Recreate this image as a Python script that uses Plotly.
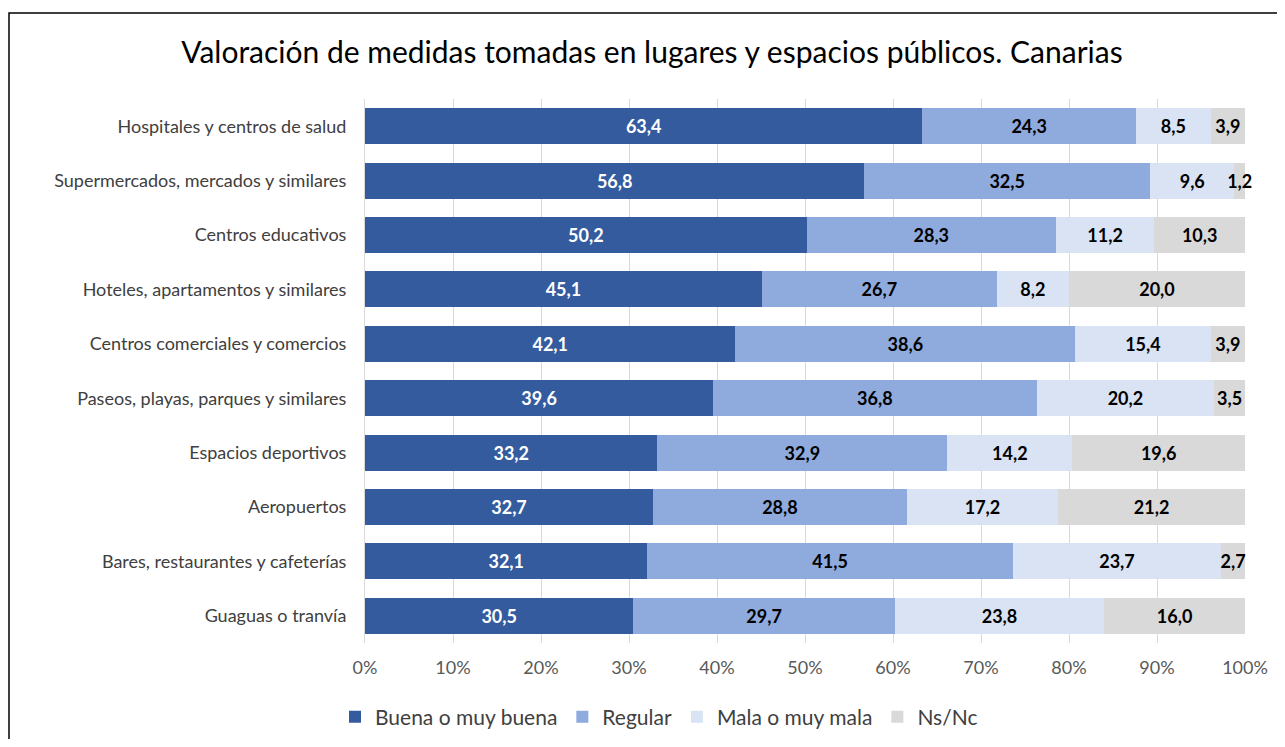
import plotly.graph_objects as go

# categories (top to bottom as in the chart)
categorias = [
    "Hospitales y centros de salud",
    "Supermercados, mercados y similares",
    "Centros educativos",
    "Hoteles, apartamentos y similares",
    "Centros comerciales y comercios",
    "Paseos, playas, parques y similares",
    "Espacios deportivos",
    "Aeropuertos",
    "Bares, restaurantes y cafeterías",
    "Guaguas o tranvía",
]

buena = [63.4, 56.8, 50.2, 45.1, 42.1, 39.6, 33.2, 32.7, 32.1, 30.5]
regular = [24.3, 32.5, 28.3, 26.7, 38.6, 36.8, 32.9, 28.8, 41.5, 29.7]
mala = [8.5, 9.6, 11.2, 8.2, 15.4, 20.2, 14.2, 17.2, 23.7, 23.8]
nsnc = [3.9, 1.2, 10.3, 20.0, 3.9, 3.5, 19.6, 21.2, 2.7, 16.0]

tick_vals = [0, 10, 20, 30, 40, 50, 60, 70, 80, 90, 100]
tick_text = [f"{v}%" for v in tick_vals]

series = [
    ("Buena o muy buena", buena, "#335B9E", "white"),
    ("Regular", regular, "#8FAADC", "black"),
    ("Mala o muy mala", mala, "#DAE3F3", "black"),
    ("Ns/Nc", nsnc, "#D9D9D9", "black"),
]

FONT = "Lato"
# page is drawn with an 8px body margin, so work in figure coords
OFF = 8
W, H = 1285 - 2 * OFF, 747 - 2 * OFF
PL, PR, PT, PB = 365 - OFF, 1245 - OFF, 99 - OFF, 643 - OFF
PW, PH = PR - PL, PB - PT

fig = go.Figure()
for name, vals, color, tcolor in series:
    fig.add_trace(go.Bar(
        y=categorias,
        x=vals,
        name=name,
        orientation="h",
        marker=dict(color=color, line=dict(width=0)),
        text=[f"{v:.1f}".replace(".", ",") for v in vals],
        textposition="inside",
        insidetextanchor="middle",
        textangle=0,
        constraintext="none",
        cliponaxis=False,
        textfont=dict(family=FONT, size=18, color=tcolor, weight="bold"),
        hoverinfo="skip",
    ))

fig.update_layout(
    barmode="stack",
    barnorm="percent",
    bargap=0.34,
    width=W,
    height=H,
    paper_bgcolor="white",
    plot_bgcolor="white",
    font=dict(family=FONT, size=18, color="#404040"),
    margin=dict(l=PL, r=W - PR, t=PT, b=H - PB, autoexpand=False),
    title=dict(
        text="Valoración de medidas tomadas en lugares y espacios públicos. Canarias",
        font=dict(family=FONT, size=30, color="black"),
        x=(652 - OFF) / W, xref="container", xanchor="center",
        y=1 - (52 - OFF) / H, yref="container", yanchor="middle",
    ),
    xaxis=dict(
        range=[0, 100],
        tickmode="array",
        tickvals=tick_vals,
        ticktext=tick_text,
        showgrid=True,
        gridcolor="#D9D9D9",
        gridwidth=1,
        zeroline=False,
        ticks="outside",
        ticklen=8,
        tickcolor="rgba(0,0,0,0)",
        tickfont=dict(size=18, color="#595959"),
        automargin=False,
    ),
    yaxis=dict(
        autorange="reversed",
        showline=True,
        linecolor="#D9D9D9",
        linewidth=1,
        ticks="outside",
        ticklen=14,
        tickcolor="rgba(0,0,0,0)",
        tickfont=dict(size=18, color="#404040"),
        automargin=False,
    ),
    legend=dict(
        orientation="h",
        traceorder="normal",
        x=(659 - 365) / PW,
        xanchor="center",
        y=(643 - 717) / PH,
        yanchor="middle",
        font=dict(size=21, color="#404040"),
        itemwidth=30,
    ),
    showlegend=True,
    shapes=[dict(
        type="rect", xref="paper", yref="paper",
        x0=(9 - 365) / PW, x1=(1300 - 365) / PW,
        y0=(643 - 760) / PH, y1=(643 - 13) / PH,
        line=dict(color="black", width=1.5),
        fillcolor="rgba(0,0,0,0)",
        layer="above",
    )],
)

fig.write_html("out.html")
